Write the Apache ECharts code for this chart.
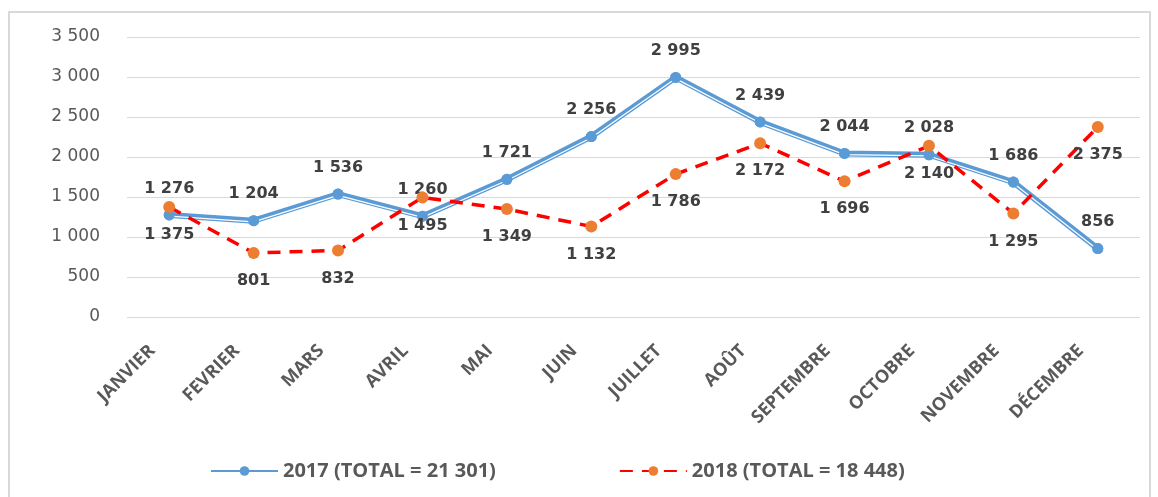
<!DOCTYPE html>
<html>
<head>
<meta charset="utf-8">
<script src="https://cdn.jsdelivr.net/npm/echarts@6/dist/echarts.min.js"></script>
<style>
  html, body { margin: 0; padding: 0; background: #fff; }
  #main { width: 1158px; height: 497px; }
</style>
</head>
<body>
<div id="main"></div>
<script>
// données
const mois = ["JANVIER", "FEVRIER", "MARS", "AVRIL", "MAI", "JUIN", "JUILLET", "AOÛT", "SEPTEMBRE", "OCTOBRE", "NOVEMBRE", "DÉCEMBRE"];
const valeurs2017 = [1276, 1204, 1536, 1260, 1721, 2256, 2995, 2439, 2044, 2028, 1686, 856];
const valeurs2018 = [1375, 801, 832, 1495, 1349, 1132, 1786, 2172, 1696, 2140, 1295, 2375];
const nom2017 = "2017 (TOTAL = 21 301)";
const nom2018 = "2018 (TOTAL = 18 448)";

// 1 276 -> séparateur espace
const fmt = v => String(v).replace(/\B(?=(\d{3})+(?!\d))/g, " ");

const chart = echarts.init(document.getElementById("main"));

const labelStyle = {
  show: true,
  fontFamily: "DejaVu Sans",
  fontWeight: "bold",
  fontSize: 16,
  color: "#404040",
  formatter: p => fmt(p.value)
};

const option = {
  animation: false,
  backgroundColor: "#fff",
  graphic: [{
    type: "rect",
    shape: { x: 9, y: 12, width: 1141, height: 500 },
    style: { fill: "none", stroke: "#d9d9d9", lineWidth: 2 },
    silent: true
  }],
  grid: [
    { left: 127, right: 18, top: 37, bottom: 180 },
    // grille décalée d'un pixel pour le filet blanc de la ligne double
    { left: 127, right: 18, top: 38.2, bottom: 178.8 }
  ],
  legend: {
    data: [nom2017, nom2018],
    bottom: 16,
    left: 210,
    padding: 0,
    itemWidth: 67,
    itemHeight: 12,
    itemGap: 123,
    textStyle: { fontFamily: "Open Sans", fontSize: 20, fontWeight: "bold", color: "#595959" }
  },
  xAxis: [{
    type: "category",
    data: mois,
    boundaryGap: true,
    axisLine: { show: false },
    axisTick: { show: false },
    axisLabel: {
      rotate: 45,
      interval: 0,
      margin: 14,
      padding: [0, 24, 0, 0],
      fontFamily: "Open Sans",
      fontWeight: "bold",
      fontSize: 18,
      color: "#595959"
    }
  }, {
    type: "category",
    gridIndex: 1,
    data: mois,
    boundaryGap: true,
    show: false
  }],
  yAxis: [{
    type: "value",
    min: 0,
    max: 3500,
    interval: 500,
    axisLine: { show: false },
    axisTick: { show: false },
    splitLine: { lineStyle: { color: "#d9d9d9", width: 1 } },
    axisLabel: {
      margin: 27,
      fontFamily: "DejaVu Sans",
      fontSize: 17,
      color: "#595959",
      formatter: v => fmt(v)
    }
  }, {
    type: "value",
    gridIndex: 1,
    min: 0,
    max: 3500,
    interval: 500,
    show: false,
    splitLine: { show: false }
  }],
  series: [
    {
      name: nom2017,
      type: "line",
      data: valeurs2017,
      z: 2,
      symbol: "circle",
      symbolSize: 11,
      itemStyle: { color: "#5b9bd5" },
      lineStyle: { color: "#5b9bd5", width: 6 }
    },
    {
      // filet blanc de la ligne double
      name: "filet",
      type: "line",
      xAxisIndex: 1,
      yAxisIndex: 1,
      data: valeurs2017,
      z: 3,
      silent: true,
      showSymbol: false,
      symbol: "none",
      lineStyle: { color: "#ffffff", width: 1.2 }
    },
    {
      name: "points2017",
      type: "line",
      data: valeurs2017,
      z: 4,
      symbol: "circle",
      symbolSize: 11,
      itemStyle: { color: "#5b9bd5" },
      lineStyle: { opacity: 0 },
      label: Object.assign({ position: "top", distance: 13 }, labelStyle)
    },
    {
      name: nom2018,
      type: "line",
      data: valeurs2018,
      z: 5,
      symbol: "circle",
      symbolSize: 12,
      itemStyle: { color: "#ed7d31" },
      lineStyle: { color: "#ff0000", width: 3.5, type: [13, 9] },
      label: Object.assign({ position: "bottom", distance: 14 }, labelStyle)
    }
  ]
};

chart.setOption(option);
</script>
</body>
</html>
